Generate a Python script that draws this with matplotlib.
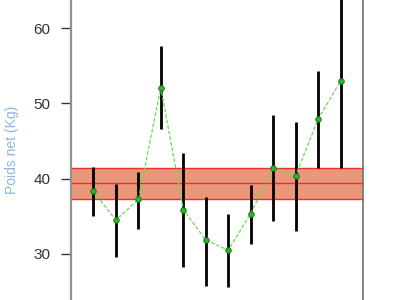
import matplotlib
matplotlib.use("Agg")
import matplotlib.pyplot as plt
import numpy as np

plt.rcParams["font.family"] = ["Liberation Sans", "DejaVu Sans"]

x = list(range(1, 13))
means = [38.3, 34.5, 37.25, 52.1, 35.9, 31.85, 30.5, 35.35, 41.45, 40.4, 47.9, 52.95]
upper = [41.5, 39.3, 40.9, 57.6, 43.4, 37.6, 35.25, 39.1, 48.45, 47.5, 54.25, 66.0]
lower = [35.1, 29.55, 33.3, 46.6, 28.3, 25.7, 25.55, 31.35, 34.4, 33.0, 41.4, 41.4]
band_low, band_mid, band_high = 37.3, 39.37, 41.37
yticks = [30, 40, 50, 60]
ylabel = "Poids net (Kg)"

fig = plt.figure(figsize=(4, 3), dpi=100)
ax = fig.add_axes([71/400, 0, (363-71)/400, 1])
ax.set_xlim(0, 13)
ax.set_ylim(23.89, 63.72)

ax.axhspan(band_low, band_high, facecolor="#E9967A", edgecolor="none", zorder=1)
for v in (band_low, band_mid, band_high):
    ax.axhline(v, color="#F0302A", lw=1.0, zorder=1.5)
ax.vlines(x, lower, upper, color="black", lw=2, zorder=2)
ax.plot(x, means, ls="--", color="#66DD55", lw=0.9, dashes=(3, 1.5), zorder=4)
ax.plot(x, means, ls="none", marker="o", ms=4, mfc="#22BB22", mec="#226622", mew=0.6, zorder=5)

ax.set_yticks(yticks)
ax.set_yticklabels([str(t) for t in yticks], fontsize=11, color="#333333")
ax.tick_params(axis="y", length=7, width=1, color="#333333", pad=8)
ax.set_xticks([])
ax.set_ylabel(ylabel, color="#8CB8DF", fontsize=10)
ax.yaxis.set_label_coords((19 - 71) / 292, 0.5)
for s in ("top", "bottom"):
    ax.spines[s].set_visible(False)
ax.spines["left"].set_color("#909090")
ax.spines["left"].set_linewidth(1.6)
ax.spines["right"].set_color("#707070")
ax.spines["right"].set_linewidth(1.2)

fig.savefig("out.png", dpi=100)
